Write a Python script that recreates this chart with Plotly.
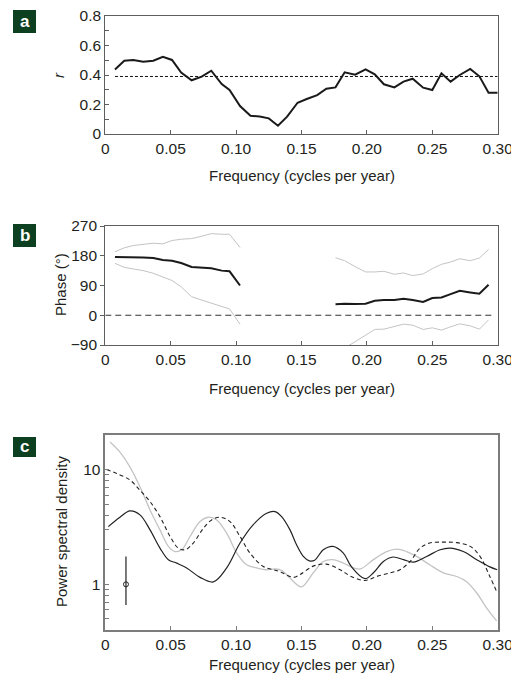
import plotly.graph_objects as go

# The page body has an 8px default margin, so the figure is sized to fit inside it
OFF = 8
W, H = 519 - OFF, 681 - OFF

# ---------------- data ----------------
# Panel a: coherence r vs frequency
freq_a = [0.0074, 0.0145, 0.0214, 0.029, 0.0367, 0.044, 0.051, 0.058, 0.066, 0.0737,
          0.081, 0.089, 0.095, 0.103, 0.111, 0.118, 0.125, 0.132, 0.139, 0.147,
          0.154, 0.162, 0.169, 0.176, 0.183, 0.191, 0.199, 0.206, 0.213, 0.221,
          0.228, 0.235, 0.243, 0.25, 0.257, 0.264, 0.271, 0.279, 0.286, 0.293, 0.30]
r_vals = [0.438, 0.497, 0.502, 0.49, 0.497, 0.524, 0.502, 0.416, 0.364, 0.389,
          0.429, 0.339, 0.298, 0.19, 0.124, 0.118, 0.106, 0.056, 0.118, 0.212,
          0.237, 0.264, 0.307, 0.316, 0.418, 0.402, 0.438, 0.405, 0.337, 0.316,
          0.355, 0.375, 0.314, 0.298, 0.411, 0.355, 0.4, 0.441, 0.391, 0.28, 0.28]
r_signif = 0.39

# Panel b: phase (degrees) with confidence bounds; None = not shown
N = None
phase = [176, 176, 176, 175, 173, 167, 165, 158, 146, 145, 142, 135, 133, 90,
         N, N, N, N, N, N, N, N, N,
         33, 35, 34, 35, 44, 46, 46, 50, 46, 40, 52, 54, 64, 74, 69, 65, 92, N]
phase_hi = [192, 204, 211, 214, 218, 216, 226, 230, 232, 239, 247, 245, 245, 205,
            N, N, N, N, N, N, N, N, N,
            174, 165, 147, 131, 131, 133, 124, 128, 120, 125, 141, 154, 161, 171, 165, 173, 199, N]
phase_lo = [157, 145, 140, 135, 127, 117, 105, 86, 56, 46, 36, 26, 19, -27,
            N, N, N, N, N, N, N, N, N,
            -125, -99, -80, -60, -43, -42, -33, -27, -30, -43, -38, -45, -35, -26, -32, -42, -14, N]

# Panel c: power spectral densities
freq_black = [0.0023, 0.0112, 0.0189, 0.0265, 0.0342, 0.0418, 0.0482, 0.0546, 0.0622, 0.0724,
              0.0826, 0.0928, 0.103, 0.113, 0.1234, 0.1297, 0.1348, 0.1412, 0.1463, 0.1514,
              0.156, 0.160, 0.1667, 0.174, 0.182, 0.188, 0.1985, 0.205, 0.2126, 0.220,
              0.228, 0.2355, 0.2457, 0.256, 0.2635, 0.2737, 0.284, 0.294, 0.2997]
psd_black = [3.18, 3.84, 4.36, 4.03, 2.98, 2.07, 1.64, 1.53, 1.39, 1.15,
             1.05, 1.39, 2.29, 3.3, 4.16, 4.3, 3.89, 2.98, 2.2, 1.75,
             1.6, 1.62, 2.0, 2.14, 1.87, 1.43, 1.12, 1.26, 1.58, 1.73,
             1.64, 1.56, 1.75, 2.0, 2.07, 1.93, 1.64, 1.42, 1.34]

freq_gray = [0.0036, 0.0112, 0.0189, 0.0265, 0.0342, 0.0418, 0.0482, 0.0533, 0.0584, 0.0648,
             0.0724, 0.0788, 0.0852, 0.0928, 0.1005, 0.108, 0.1157, 0.123, 0.130, 0.135,
             0.141, 0.150, 0.159, 0.1667, 0.174, 0.182, 0.19, 0.195, 0.205, 0.215,
             0.223, 0.2304, 0.238, 0.248, 0.2584, 0.2687, 0.276, 0.284, 0.2916, 0.2992]
psd_gray = [17.4, 14.2, 10.5, 7.08, 4.45, 2.98, 2.14, 1.93, 2.0, 2.61,
            3.52, 3.84, 3.64, 2.79, 1.87, 1.48, 1.39, 1.34, 1.36, 1.32,
            1.14, 0.95, 1.26, 1.58, 1.64, 1.53, 1.39, 1.36, 1.64, 1.93,
            2.03, 1.93, 1.75, 1.48, 1.26, 1.17, 1.06, 0.84, 0.62, 0.48]

freq_dash = [0.001, 0.0087, 0.0189, 0.0265, 0.0342, 0.0418, 0.0495, 0.0558, 0.061, 0.0673,
             0.075, 0.0813, 0.0877, 0.0953, 0.103, 0.1106, 0.1208, 0.1284, 0.1336, 0.1438,
             0.149, 0.159, 0.169, 0.1795, 0.188, 0.1985, 0.2075, 0.2177, 0.2253, 0.233,
             0.2406, 0.248, 0.2584, 0.2687, 0.279, 0.2865, 0.294, 0.2997]
psd_dash = [10.0, 9.25, 8.1, 6.6, 5.25, 3.89, 2.61, 2.07, 2.0, 2.29,
            3.08, 3.64, 3.84, 3.52, 2.61, 1.87, 1.43, 1.34, 1.29, 1.15,
            1.22, 1.44, 1.50, 1.34, 1.17, 1.08, 1.17, 1.26, 1.34, 1.58,
            2.07, 2.29, 2.33, 2.31, 2.14, 1.75, 1.17, 0.84]

err_f = [0.0158]
err_v = [1.0]
err_plus = [0.75]
err_minus = [0.34]

x_ticks = [0, 0.05, 0.10, 0.15, 0.20, 0.25, 0.30]
x_ticktext = ["0", "0.05", "0.10", "0.15", "0.20", "0.25", "0.30"]
ya_ticks = [0, 0.1, 0.2, 0.3, 0.4, 0.5, 0.6, 0.7, 0.8]
ya_text = ["0", "", "0.2", "", "0.4", "", "0.6", "", "0.8"]
yb_ticks = [-90, 0, 90, 180, 270]
yb_text = ["\u221290", "0", "90", "180", "270"]
yc_ticks = [0.4, 0.5, 0.6, 0.7, 0.8, 0.9, 1, 2, 3, 4, 5, 6, 7, 8, 9, 10, 20]
yc_text = ["", "", "", "", "", "", "1", "", "", "", "", "", "", "", "", "10", ""]

# ---------------- styling ----------------
FONT = "Liberation Sans, Arial, Helvetica, sans-serif"
TXT = "#231f20"
AX = "#5e5e5e"
AXC = "#7c7c7c"
LGRAY = "#c4c4c4"
GREEN = "#0d3f21"


def py(p):
    return 1 - (p - OFF) / H


def px(p):
    return (p - OFF) / W


xdom = [px(105.3), px(497.7)]
dom_a = [py(134), py(16)]
dom_b = [py(345), py(226)]
dom_c = [py(630), py(435)]

fig = go.Figure()

# panel a
fig.add_trace(go.Scatter(x=[freq_a[0], 0.30], y=[r_signif, r_signif], mode="lines",
                         line=dict(color="#111", width=1, dash="3px,2px"),
                         xaxis="x", yaxis="y", showlegend=False, hoverinfo="skip"))
fig.add_trace(go.Scatter(x=freq_a, y=r_vals, mode="lines",
                         line=dict(color="#1a1a1a", width=2),
                         xaxis="x", yaxis="y", showlegend=False))

# panel b
fig.add_trace(go.Scatter(x=[0, 0.297], y=[0, 0], mode="lines",
                         line=dict(color="#333", width=1, dash="6px,4px"),
                         xaxis="x2", yaxis="y2", showlegend=False, hoverinfo="skip"))
fig.add_trace(go.Scatter(x=freq_a, y=phase_hi, mode="lines",
                         line=dict(color=LGRAY, width=1), connectgaps=False,
                         xaxis="x2", yaxis="y2", showlegend=False))
fig.add_trace(go.Scatter(x=freq_a, y=phase_lo, mode="lines",
                         line=dict(color=LGRAY, width=1), connectgaps=False,
                         xaxis="x2", yaxis="y2", showlegend=False))
fig.add_trace(go.Scatter(x=freq_a, y=phase, mode="lines",
                         line=dict(color="#1a1a1a", width=2), connectgaps=False,
                         xaxis="x2", yaxis="y2", showlegend=False))

# panel c
fig.add_trace(go.Scatter(x=freq_gray, y=psd_gray, mode="lines",
                         line=dict(color=LGRAY, width=1.3, shape="spline", smoothing=1.0),
                         xaxis="x3", yaxis="y3", showlegend=False))
fig.add_trace(go.Scatter(x=freq_dash, y=psd_dash, mode="lines",
                         line=dict(color="#222", width=1.1, dash="4px,3px", shape="spline", smoothing=1.0),
                         xaxis="x3", yaxis="y3", showlegend=False))
fig.add_trace(go.Scatter(x=freq_black, y=psd_black, mode="lines",
                         line=dict(color="#222", width=1.2, shape="spline", smoothing=1.0),
                         xaxis="x3", yaxis="y3", showlegend=False))
fig.add_trace(go.Scatter(x=err_f, y=err_v, mode="markers",
                         marker=dict(symbol="circle-open", size=5, color="#222", line=dict(width=1)),
                         error_y=dict(type="data", array=err_plus, arrayminus=err_minus,
                                      symmetric=False, color="#222", thickness=1.2, width=0),
                         xaxis="x3", yaxis="y3", showlegend=False))

tickfont = dict(family=FONT, size=15.5, color=TXT)


def xaxis(anchor, color, lw):
    return dict(domain=xdom, anchor=anchor, range=[0, 0.30], tickvals=x_ticks,
                ticktext=x_ticktext, ticks="inside", ticklen=4, tickcolor=color,
                showline=True, linecolor=color, linewidth=lw, mirror=True, automargin=False,
                ticklabeloverflow="allow",
                showgrid=False, zeroline=False, tickfont=tickfont)


def yaxis(dom, anchor, rng, vals, text, ticks, color, lw, **kw):
    return dict(domain=dom, anchor=anchor, range=rng, tickvals=vals, ticktext=text,
                ticks=ticks, ticklen=4, tickcolor=color, showline=True, linecolor=color,
                linewidth=lw, mirror=True, showgrid=False, zeroline=False, tickfont=tickfont,
                automargin=False, ticklabeloverflow="allow", **kw)


layout = dict(
    width=W, height=H, margin=dict(l=0, r=0, t=0, b=0, autoexpand=False),
    paper_bgcolor="white", plot_bgcolor="white",
    font=dict(family=FONT, color=TXT),
    xaxis=xaxis("y", AX, 1.2),
    xaxis2=xaxis("y2", AX, 1.2),
    xaxis3=xaxis("y3", AXC, 1.6),
    yaxis=yaxis(dom_a, "x", [0, 0.8], ya_ticks, ya_text, "inside", AX, 1.2),
    yaxis2=yaxis(dom_b, "x2", [-90, 270], yb_ticks, yb_text, "outside", AX, 1.2),
    yaxis3=yaxis(dom_c, "x3", [-0.398, 1.301], yc_ticks, yc_text, "inside", AXC, 1.6,
                 type="log"),
)
fig.update_layout(**layout)

annotations = []
shapes = []
title_font = dict(family=FONT, size=15, color=TXT)
xmid = px((105.3 + 497.7) / 2)
for yc in (175, 388, 664):
    annotations.append(dict(text="Frequency (cycles per year)", x=xmid, y=py(yc),
                            xref="paper", yref="paper", showarrow=False,
                            xanchor="center", yanchor="middle", font=title_font))
annotations.append(dict(text="<i>r</i>", x=px(59), y=py(75), xref="paper", yref="paper",
                        showarrow=False, textangle=-90, xanchor="center", yanchor="middle",
                        font=title_font))
annotations.append(dict(text="Phase (°)", x=px(60), y=py(285), xref="paper", yref="paper",
                        showarrow=False, textangle=-90, xanchor="center", yanchor="middle",
                        font=title_font))
annotations.append(dict(text="Power spectral density", x=px(61), y=py(532), xref="paper",
                        yref="paper", showarrow=False, textangle=-90, xanchor="center",
                        yanchor="middle", font=title_font))

for letter, top, bot in (("a", 10, 33), ("b", 224, 247), ("c", 437, 457)):
    shapes.append(dict(type="rect", xref="paper", yref="paper",
                       x0=px(13), x1=px(36), y0=py(bot), y1=py(top),
                       fillcolor=GREEN, line=dict(width=0), layer="above"))
    annotations.append(dict(text="<b>%s</b>" % letter, x=px(24.5), y=py((top + bot) / 2 - 0.5),
                            xref="paper", yref="paper", showarrow=False,
                            xanchor="center", yanchor="middle",
                            font=dict(family=FONT, size=17, color="white")))

fig.update_layout(annotations=annotations, shapes=shapes)
fig.write_html("out.html")
